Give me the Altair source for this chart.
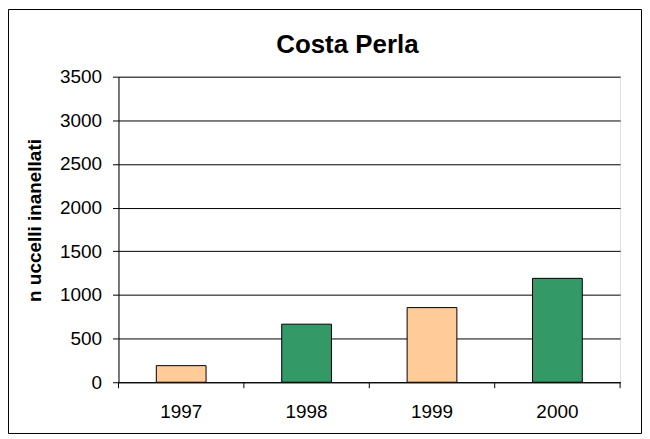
import altair as alt
import pandas as pd

years = ["1997", "1998", "1999", "2000"]
values = [190, 665, 855, 1190]
y_ticks = [0, 500, 1000, 1500, 2000, 2500, 3000, 3500]
title_text = "Costa Perla"
y_title = "n uccelli inanellati"

df = pd.DataFrame({"year": years, "value": values})
last_df = pd.DataFrame({"year": years[-1:]})

FONT = "Liberation Sans, Arial, sans-serif"
W, H = 504, 307

xscale = alt.Scale(domain=years, paddingInner=0, paddingOuter=0)

bars = alt.Chart(df).mark_bar(size=50, stroke="black", strokeWidth=1).encode(
    x=alt.X("year:N", scale=xscale, sort=years,
            axis=alt.Axis(title=None, labelAngle=0, ticks=False, tickSize=0,
                          labelPadding=20, labelFontSize=19, labelColor="black",
                          domainColor="black", labelFont=FONT)),
    y=alt.Y("value:Q", scale=alt.Scale(domain=[0, 3500], nice=False),
            axis=alt.Axis(values=y_ticks, format="d", title=y_title,
                          titleFontSize=19, titleFontWeight="bold", titleFont=FONT,
                          titleColor="black", titleAngle=-90, titleAlign="center",
                          titleBaseline="middle", titleX=-84, titleY=144,
                          labelFontSize=19, labelColor="black", labelFont=FONT,
                          labelPadding=11, tickSize=6, tickColor="black",
                          domainColor="black", gridColor="black", gridWidth=1,
                          gridOpacity=1)),
    color=alt.Color("year:N", scale=alt.Scale(domain=years,
                    range=["#FFCC99", "#339966", "#FFCC99", "#339966"]), legend=None),
)

ticks_start = alt.Chart(df).mark_rule(color="black", strokeWidth=1).encode(
    x=alt.X("year:N", scale=xscale, sort=years, bandPosition=0),
    y=alt.value(H), y2=alt.value(H + 6),
)
ticks_end = alt.Chart(last_df).mark_rule(color="black", strokeWidth=1).encode(
    x=alt.X("year:N", scale=xscale, sort=years, bandPosition=1),
    y=alt.value(H), y2=alt.value(H + 6),
)

title = alt.Chart(pd.DataFrame({"t": [title_text]})).mark_text(
    fontSize=26, fontWeight="bold", font=FONT, color="black",
    align="center", baseline="alphabetic").encode(
    text="t:N", x=alt.value(230), y=alt.value(-24),
)

border = alt.Chart(pd.DataFrame({"k": [0]})).mark_rect(
    fill=None, stroke="black", strokeWidth=1).encode(
    x=alt.value(-110.5), x2=alt.value(W + 21.5),
    y=alt.value(-67.5), y2=alt.value(H + 51.5),
)

chart = alt.layer(bars, ticks_start, ticks_end, title, border).properties(
    width=W, height=H,
    autosize=alt.AutoSizeParams(type="none"),
    padding={"left": 111, "top": 68, "right": 22, "bottom": 52},
).configure_view(stroke="#808080", strokeWidth=1).configure(background="white")

chart.save("out.html", embed_options={"renderer": "svg", "actions": False})
